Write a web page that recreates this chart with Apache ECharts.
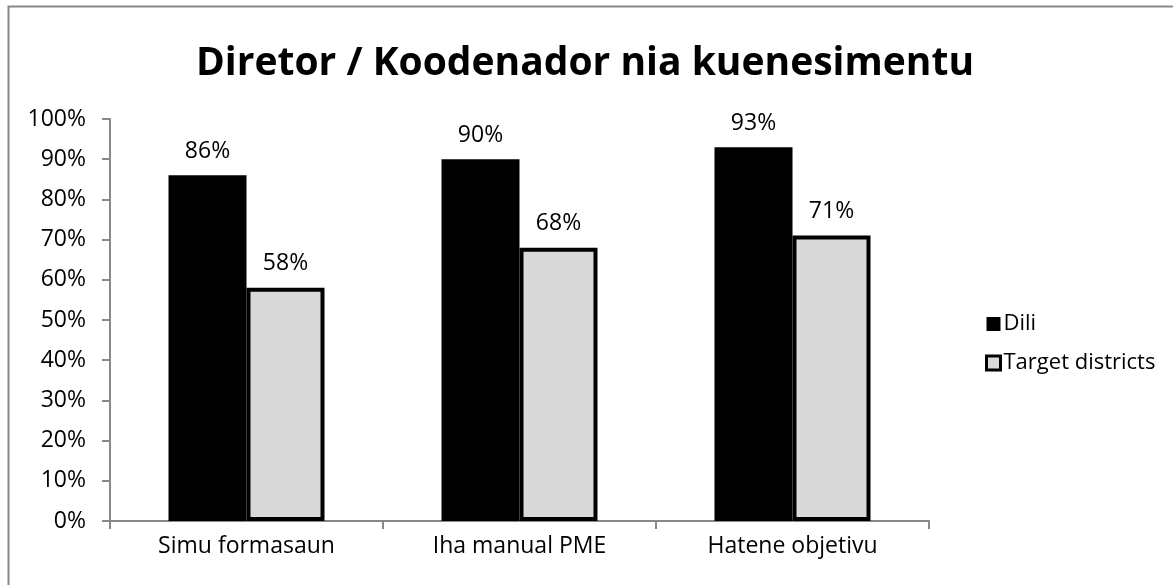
<!DOCTYPE html>
<html>
<head>
<meta charset="utf-8">
<script src="https://cdn.jsdelivr.net/npm/echarts@6/dist/echarts.min.js"></script>
<style>
  html, body { margin: 0; padding: 0; background: #fff; }
  #chart { width: 1173px; height: 585px; }
</style>
</head>
<body>
<div id="chart"></div>
<script>
// data
const categories = ['Simu formasaun', 'Iha manual PME', 'Hatene objetivu'];
const diliValues = [86, 90, 93];
const targetValues = [58, 68, 71];
const yTicks = [0, 10, 20, 30, 40, 50, 60, 70, 80, 90, 100];

const font = '"Open Sans", Lato, sans-serif';
const chart = echarts.init(document.getElementById('chart'));

const option = {
  backgroundColor: '#fff',
  animation: false,
  title: {
    text: 'Diretor / Koodenador nia kuenesimentu',
    left: 580,
    textAlign: 'center',
    top: 39,
    textStyle: { fontFamily: font, fontSize: 39, fontWeight: 'bold', color: '#000' }
  },
  graphic: [
    {
      // chart frame (right/bottom run off the page)
      type: 'rect',
      shape: { x: 8.5, y: 6.5, width: 1200, height: 620 },
      style: { fill: 'none', stroke: '#888', lineWidth: 2 },
      silent: true
    }
  ],
  legend: {
    orient: 'vertical',
    left: 980,
    top: 308,
    itemWidth: 14,
    itemHeight: 14,
    itemGap: 17,
    textStyle: { fontFamily: font, fontSize: 22, color: '#000', padding: [0, 0, 0, -2] },
    data: [
      { name: 'Dili', icon: 'rect' },
      { name: 'Target districts', icon: 'rect', itemStyle: { borderWidth: 3, borderColor: '#000' } }
    ]
  },
  grid: { left: 110, right: 244, top: 119, bottom: 64 },
  xAxis: {
    type: 'category',
    data: categories,
    axisLine: { lineStyle: { color: '#888', width: 2 } },
    axisTick: { show: true, alignWithLabel: false, length: 8, lineStyle: { color: '#888', width: 2 } },
    axisLabel: { fontFamily: font, fontSize: 23, color: '#000', margin: 14 }
  },
  yAxis: {
    type: 'value',
    min: 0,
    max: 100,
    interval: 10,
    axisLine: { show: true, lineStyle: { color: '#888', width: 2 } },
    axisTick: { show: true, length: 8, lineStyle: { color: '#888', width: 2 } },
    splitLine: { show: false },
    axisLabel: {
      fontFamily: font, fontSize: 23, color: '#000', margin: 24,
      formatter: v => (yTicks.includes(v) ? v + '%' : '')
    }
  },
  series: [
    {
      name: 'Dili',
      type: 'bar',
      data: diliValues,
      barWidth: 78,
      barGap: '0%',
      itemStyle: { color: '#000' },
      label: {
        show: true, position: 'top', distance: 12,
        formatter: '{c}%', fontFamily: font, fontSize: 23, color: '#000'
      }
    },
    {
      name: 'Target districts',
      type: 'bar',
      data: targetValues,
      barWidth: 78,
      itemStyle: { color: '#d9d9d9', borderColor: '#000', borderWidth: 4 },
      label: {
        show: true, position: 'top', distance: 13,
        formatter: '{c}%', fontFamily: font, fontSize: 23, color: '#000'
      }
    }
  ]
};

chart.setOption(option);
</script>
</body>
</html>
